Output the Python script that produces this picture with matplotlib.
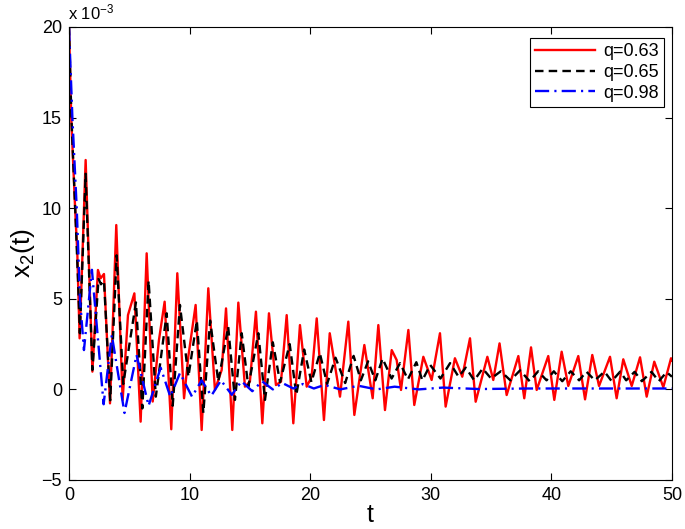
import matplotlib
matplotlib.use("Agg")
import matplotlib.pyplot as plt

plt.rcParams['font.family'] = ['Liberation Sans', 'DejaVu Sans']
plt.rcParams['mathtext.fontset'] = 'custom'
plt.rcParams['mathtext.rm'] = 'Liberation Sans'
plt.rcParams['mathtext.it'] = 'Liberation Sans:italic'

# ---- data (values in units of 1e-3) ----
labels = ["q=0.63", "q=0.65", "q=0.98"]

t_red = [0, 0.19, 0.5, 0.69, 0.88, 1.38, 1.94, 2.40, 2.62, 2.90, 3.40, 3.92, 4.45, 4.89, 5.42, 5.94,
         6.44, 6.94, 7.46, 7.93, 8.48, 8.98, 9.54, 9.89, 10.5, 11.0, 11.55, 12.1, 12.66, 13.02, 13.54,
         14.04, 14.59, 15.0, 15.5, 16.03, 16.58, 17.16, 17.58, 18.05, 18.6, 19.15, 19.71, 20.12, 20.54,
         21.14, 21.62, 22.47, 23.16, 23.66, 24.49, 25.18, 25.65, 26.2, 26.76, 27.17, 27.53, 28.14, 28.63,
         29.38, 30.07, 30.76, 31.23, 32.0, 32.61, 33.25, 33.72, 34.69, 35.18, 35.7, 36.29, 37.26, 37.75,
         38.31, 38.78, 39.74, 40.24, 40.85, 41.4, 42.23, 42.79, 43.39, 43.95, 44.86, 45.41, 45.96, 46.66,
         47.35, 47.9, 48.53, 49.28, 49.92, 50]
y_red = [20, 14.9, 10.1, 7.5, 2.82, 12.66, 0.98, 6.59, 6.13, 6.37, -0.77, 9.07, -0.58, 4.1, 5.3, -1.78,
         7.51, -0.67, 2.73, 4.84, -2.2, 6.41, -0.49, 1.8, 4.66, -2.24, 5.58, -0.03, 1.07, 4.47, -2.24,
         4.79, 0.15, 0.43, 4.29, -1.87, 4.2, 0.24, 0.43, 4.1, -1.87, 3.55, 0.15, 0.7, 3.92,
         -1.69, 3.1, -0.4, 3.74, -1.41, 2.45, -0.49, 3.55, -1.14, 2.17, 1.62, -0.03, 3.28, -0.86,
         1.8, 0.52, 3.1, -0.95, 1.72, 0.7, 2.82, -0.68, 1.8, 0.52, 2.54, -0.31, 1.84, -0.49,
         2.32, -0.03, 1.84, -0.58, 2.08, 0.19, 1.84, -0.55, 1.9, 0.19, 1.8, -0.49, 1.66, 0.19,
         1.77, -0.4, 1.53, 0.12, 1.72, 1.6]

t_blk = [0, 0.2, 0.5, 0.75, 0.9, 1.38, 1.94, 2.45, 2.65, 2.9, 3.42, 3.95, 4.5, 5.55, 6.08, 6.6, 7.2,
         8.1, 8.6, 9.2, 9.9, 10.6, 11.14, 11.7, 12.38, 13.2, 13.76, 14.32, 14.87, 15.7, 16.25, 16.9,
         17.5, 18.3, 18.85, 19.5, 20.1, 20.8, 21.4, 22.1, 22.9, 23.6, 24.2, 24.8, 25.4, 26.0, 26.75,
         27.45, 28.1, 28.8, 29.3, 29.95, 30.8, 31.6, 32.3, 32.9, 33.6, 34.3, 35.0, 35.8, 36.6, 37.4,
         38.2, 38.9, 39.6, 40.2, 40.9, 41.6, 42.3, 42.9, 43.6, 44.4, 45.0, 45.7, 46.2, 46.9, 47.5,
         48.3, 48.9, 49.55, 50]
y_blk = [20, 15, 10.2, 6, 3.1, 11.9, 1.07, 6.1, 5.8, 6.0, -0.6, 7.4, 0.3, 4.8, -1.05, 6.0, -0.4,
         4.2, -0.9, 4.66, 0.7, 3.8, -1.3, 3.8, 0.43, 3.46, -0.58, 3.1, 0.15, 3.1, -0.58, 2.6,
         0.4, 2.5, -0.3, 2.2, 0.4, 2.0, 0.3, 1.75, 0.35, 1.85, 0.5, 1.55, 0.5, 1.7, 0.6,
         1.45, 0.55, 1.5, 0.5, 1.35, 0.6, 1.45, 0.7, 1.2, 0.5, 1.15, 0.6, 1.0, 0.5, 1.05,
         0.45, 1.0, 0.5, 1.0, 0.45, 1.0, 0.5, 0.98, 0.5, 0.98, 0.45, 0.98, 0.5, 0.97, 0.45,
         0.97, 0.45, 0.95, 0.7]

t_blu = [0, 0.28, 0.64, 0.91, 1.24, 1.9, 2.87, 3.55, 4.6, 5.6, 6.6, 7.6, 8.4, 9.2, 10.2, 11.0, 11.8,
         12.6, 13.5, 14.3, 15.2, 16.0, 16.9, 17.7, 18.6, 19.4, 20.3, 21.2, 22.5, 24.0, 25.5, 27.0,
         29.0, 31.0, 34.0, 38.0, 42.0, 46.0, 50.0]
y_blu = [20, 15, 10, 5, 2.17, 6.6, -0.82, 3.0, -1.3, 1.9, -0.9, 1.2, -0.4, 0.9, -0.4, 0.5, -0.35,
         0.5, -0.3, 0.45, -0.1, 0.45, 0.0, 0.35, 0.05, 0.3, 0.05, 0.25, 0.0, 0.2, 0.0, 0.15,
         0.0, 0.1, 0.02, 0.05, 0.05, 0.05, 0.05]

xticks = [0, 10, 20, 30, 40, 50]
yticks = [-5, 0, 5, 10, 15, 20]

# ---- figure ----
fig = plt.figure(figsize=(6.85, 5.29), dpi=100)
ax = fig.add_axes([69/685, 49/529, 603/685, 453/529])

ax.plot(t_red, y_red, color='#ff0000', lw=1.7, label=labels[0], solid_joinstyle='round')
ax.plot(t_blk, y_blk, color='black', lw=1.7, dashes=(3.6, 2.2), label=labels[1],
        dash_joinstyle='round')
ax.plot(t_blu, y_blu, color='#0000ff', lw=1.7, dashes=(6, 2.2, 0.9, 2.2), label=labels[2],
        dash_joinstyle='round')

ax.set_xlim(0, 50)
ax.set_ylim(-5, 20)
ax.set_xticks(xticks)
ax.set_yticks(yticks)
ax.tick_params(direction='in', top=True, right=True, length=5, width=0.8,
               labelsize=13, pad=5, colors='black')
for s in ax.spines.values():
    s.set_linewidth(0.8)

ax.set_xlabel('t', fontsize=18, labelpad=-1)
ax.set_ylabel(r'x$_{\mathregular{2}}$(t)', fontsize=19, labelpad=3)

fig.text(68/685, 1 - 12/529, r'x 10$^{\mathregular{-3}}$', fontsize=12, ha='left', va='center')

leg = ax.legend(loc='upper right', bbox_to_anchor=(664/685, 1 - 38/529),
                bbox_transform=fig.transFigure, borderaxespad=0, fancybox=False,
                edgecolor='black', framealpha=1, fontsize=13, handlelength=3.3,
                handletextpad=0.45, labelspacing=0.2, borderpad=0.3)
leg.get_frame().set_linewidth(0.8)

fig.savefig('out.png', dpi=100)
